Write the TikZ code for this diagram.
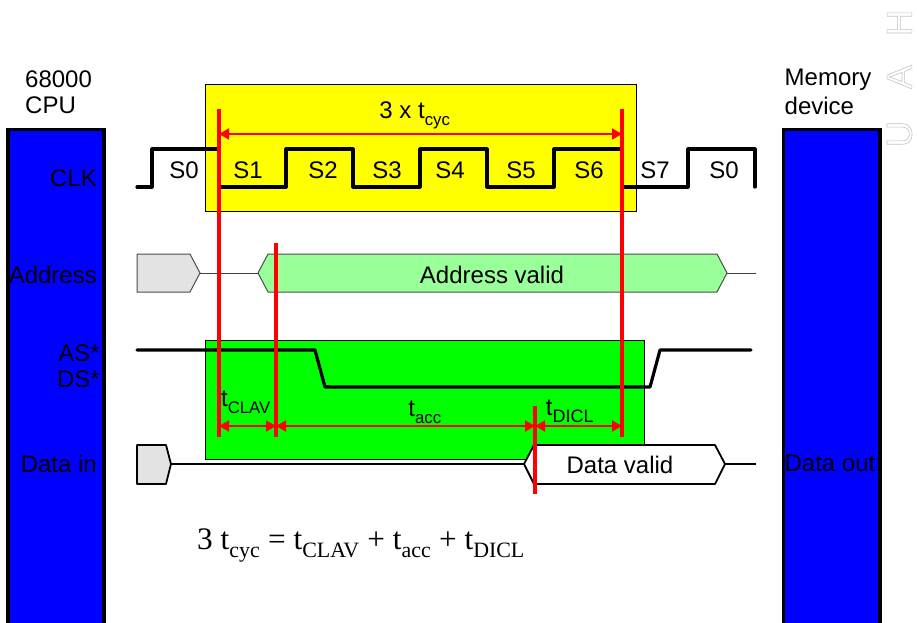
\documentclass[tikz,border=0pt]{standalone}
\usepackage{fontspec}
\setmainfont{Liberation Sans}
\newfontfamily\timesf{Liberation Serif}
\usetikzlibrary{arrows.meta}
\definecolor{addrgreen}{RGB}{153,255,153}
\definecolor{hatchgrey}{RGB}{227,227,227}
\definecolor{bandyellow}{RGB}{255,255,0}
\tikzset{
  sig/.style={draw=black,line width=3.2pt,line cap=round,line join=round},
  thinsig/.style={draw=black!75,line width=1pt},
  bus/.style={draw=black,line width=1.8pt,line join=round},
  block/.style={draw=black,line width=3.4pt,fill=blue},
  band/.style={draw=black,line width=1pt},
  marker/.style={draw=red,line width=3.4pt},
  span/.style={draw=red,line width=2pt,{Triangle[width=11pt,length=10pt]}-{Triangle[width=11pt,length=10pt]}},
  lbl/.style={inner sep=0pt,font=\fontsize{24}{26}\selectfont},
  wmark/.style={inner sep=0pt,rotate=90,font=\fontsize{36}{38}\selectfont},
}
\newcommand{\subt}[2]{#1\textsubscript{\raisebox{-0.35ex}{#2}}}
\newcommand{\outl}[1]{\special{pdf:code 1 Tr 0.6 w 0.76 G}#1\special{pdf:code 0 Tr 0 G}}
\begin{document}
\begin{tikzpicture}[x=1pt,y=-1pt]
\useasboundingbox (0,0) rectangle (917,622);
\node[wmark] (wu) at (899.5,134) {\outl{U}};
\node[wmark] (wa) at (899.5,77) {\outl{A}};
\node[wmark] (wh) at (899.5,23) {\outl{H}};
% bands
\node[band,fill=bandyellow,minimum width=431pt,minimum height=127pt,inner sep=0pt,anchor=north west] (ybox) at (205,84) {};
\node[band,fill=green,minimum width=439pt,minimum height=119pt,inner sep=0pt,anchor=north west] (gbox) at (205,340) {};
% blocks
\path[block] (8,624) -- (8,129.5) -- (104,129.5) -- (104,624);
\path[block] (783.5,624) -- (783.5,129.5) -- (880,129.5) -- (880,624);
% block labels
\node[lbl,anchor=west] (cpu1) at (25,79) {68000};
\node[lbl,anchor=west] (cpu2) at (25,105) {CPU};
\node[lbl,anchor=west] (mem1) at (784.5,80) {Memory};
\node[lbl,anchor=west] (mem2) at (784.5,106) {device};
\node[lbl,anchor=east] (lclk) at (97,178) {CLK};
\node[lbl,anchor=east] (laddr) at (97,275) {Address};
\node[lbl,anchor=east] (las) at (100,353) {AS*};
\node[lbl,anchor=east] (lds) at (100,379) {DS*};
\node[lbl,anchor=east] (ldata) at (97,464) {Data in};
\node[lbl] (ldout) at (830,463) {Data out};
% clock
\path[sig] (137,187) -- (152,187) -- (152,149) -- (219,149) -- (219,187) -- (286,187) -- (286,149) -- (353,149) -- (353,187) -- (420,187) -- (420,149) -- (487,149) -- (487,187) -- (554,187) -- (554,149) -- (622,149) -- (622,187) -- (688,187) -- (688,149) -- (755,149) -- (755,187);
\foreach \n/\x/\t in {a/184/S0,b/248/S1,c/323/S2,d/387/S3,e/450/S4,f/521/S5,g/589/S6,h/655/S7,i/724/S0}
  \node[lbl] (s\n) at (\x,170) {\t};
% address
\coordinate (a0) at (200,273);
\coordinate (a1) at (258,273);
\coordinate (a2) at (727,273);
\coordinate (a3) at (756,273);
\path[draw=black!70,line width=1pt,fill=hatchgrey] (137,254) -- (190,254) -- (a0) -- (190,292) -- (137,292) -- cycle;
\path[thinsig] (a0) -- (a1);
\path[draw=black!70,line width=1pt,fill=addrgreen] (a1) -- (268,254) -- (717,254) -- (a2) -- (717,292) -- (268,292) -- cycle;
\path[thinsig] (a2) -- (a3);
\node[lbl] (addrv) at (492,275) {Address valid};
% strobes
\path[sig] (137,350) -- (315,350) -- (325,387) -- (650,387) -- (660,350) -- (751,350);
% data
\coordinate (d0) at (171,464);
\coordinate (d1) at (524,464);
\coordinate (d2) at (725,464);
\coordinate (d3) at (756,464);
\path[bus,fill=hatchgrey] (137,445) -- (166,445) -- (d0) -- (166,484) -- (137,484) -- cycle;
\path[bus] (d0) -- (d1);
\path[bus,fill=white] (d1) -- (534,445) -- (715,445) -- (d2) -- (715,484) -- (534,484) -- cycle;
\path[bus] (d2) -- (d3);
\node[lbl] (dvalid) at (620,465) {Data valid};
% red lines
\coordinate (m1t) at (219,109);
\coordinate (m1b) at (219,437);
\coordinate (m2t) at (276,243);
\coordinate (m2b) at (276,437);
\coordinate (m3t) at (535,406);
\coordinate (m3b) at (535,494);
\coordinate (m4t) at (622,109);
\coordinate (m4b) at (622,437);
\path[marker] (m1t) -- (m1b);
\path[marker] (m2t) -- (m2b);
\path[marker] (m3t) -- (m3b);
\path[marker] (m4t) -- (m4b);
\coordinate (c1) at (219,134);
\coordinate (c2) at (622,134);
\coordinate (r1) at (219,426);
\coordinate (r2) at (276,426);
\coordinate (r3) at (535,426);
\coordinate (r4) at (622,426);
\path[span] (c1) -- (c2);
\path[span] (r1) -- (r2);
\path[span] (r2) -- (r3);
\path[span] (r3) -- (r4);
\node[lbl] (t3) at (415,115) {3 x \subt{t}{cyc}};
\node[lbl] (tclav) at (246,402) {\subt{t}{CLAV}};
\node[lbl] (tacc) at (425,412) {\subt{t}{acc}};
\node[lbl] (tdicl) at (570,411) {\subt{t}{\fontsize{18}{20}\selectfont DICL}};
% equation
\node[inner sep=0pt,anchor=west,font=\timesf\fontsize{31.3}{34}\selectfont] (eq) at (197,545.5) {3 \subt{t}{cyc} = \subt{t}{CLAV} + \subt{t}{acc} + \subt{t}{DICL}};
\end{tikzpicture}
\end{document}
